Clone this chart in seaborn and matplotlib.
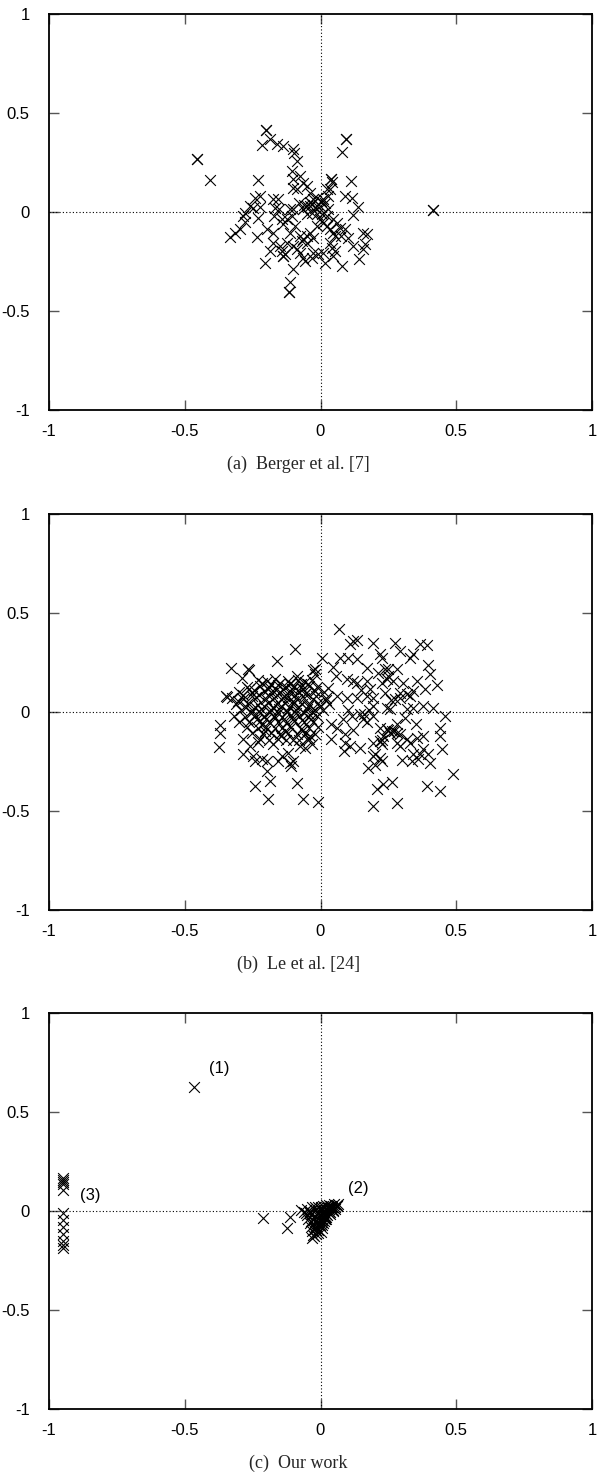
import matplotlib
matplotlib.use("Agg")
import matplotlib.pyplot as plt
import seaborn as sns
import pandas as pd

sns.set_theme(style="white")
plt.rcParams['font.family'] = ['Liberation Sans', 'DejaVu Sans']

# ---------------- Panel (a) Berger et al. [7] ----------------
a_x = [-0.454, -0.454, -0.20, -0.20, 0.094, 0.094, 0.415, 0.415, -0.115, -0.115, -0.112, -0.407, -0.231,
       0.080, 0.039, 0.039, 0.111, -0.217, -0.186, -0.162, -0.137, -0.100, -0.096, -0.088, -0.106, -0.100,
       -0.075, -0.063, -0.102, -0.088, -0.051, -0.039, -0.026, -0.014, 0.010, 0.023, 0.029, -0.051, -0.063,
       -0.039, -0.014, 0.029, 0.090, 0.115, 0.139, 0.121, -0.241, -0.223, -0.247, -0.223, -0.278, -0.284,
       -0.278, -0.232, -0.174, -0.155, -0.168, -0.152, -0.170, -0.143, -0.137, -0.125, -0.104, -0.100,
       -0.094, -0.112, -0.296, -0.315, -0.333, -0.235, -0.260, -0.075, -0.063, -0.051, -0.039, -0.051,
       -0.069, -0.026, -0.014, -0.002, 0.010, 0.023, 0.035, 0.047, 0.053, 0.071, 0.090, 0.077, 0.101,
       0.121, 0.158, 0.170, 0.164, 0.158, 0.142, 0.035, 0.041, 0.053, 0.047, 0.016, 0.078, 0.010, -0.008,
       -0.026, -0.033, -0.057, -0.063, -0.075, -0.100, -0.125, -0.149, -0.137, -0.137, -0.143, -0.131,
       -0.186, -0.174, -0.204, -0.100, -0.088, -0.112, -0.174, -0.198, 0.016, -0.002, 0.004, 0.047, 0.059,
       0.023, -0.014, -0.033, -0.051, 0.035, -0.040, -0.030, -0.020, -0.060, -0.080, 0.000, 0.043]
a_y = [0.269, 0.269, 0.414, 0.414, 0.367, 0.367, 0.010, 0.010, -0.404, -0.404, -0.354, 0.160, 0.160,
       0.305, 0.165, 0.165, 0.155, 0.340, 0.367, 0.342, 0.333, 0.317, 0.300, 0.258, 0.207, 0.165,
       0.182, 0.148, 0.123, 0.114, 0.131, 0.098, 0.064, 0.072, 0.064, 0.114, 0.081, 0.030, 0.013,
       0.030, 0.030, 0.013, 0.081, 0.072, 0.027, -0.017, 0.072, 0.081, 0.022, 0.027, -0.003, -0.020,
       -0.050, -0.032, 0.064, 0.064, 0.022, 0.013, -0.020, -0.037, -0.062, -0.037, -0.020, 0.013,
       -0.071, 0.013, -0.088, -0.104, -0.125, -0.125, 0.030, -0.121, -0.138, -0.121, -0.104, -0.155,
       -0.146, -0.130, -0.071, -0.037, -0.054, -0.071, -0.088, -0.104, -0.121, -0.079, -0.088, -0.121, -0.130,
       -0.172, -0.104, -0.113, -0.163, -0.189, -0.236, -0.155, -0.180, -0.197, -0.222, -0.256, -0.273, -0.205, -0.214,
       -0.205, -0.231, -0.247, -0.231, -0.205, -0.172, -0.155, -0.172, -0.222, -0.222, -0.197, -0.214,
       -0.197, -0.155, -0.256, -0.290, -0.189, -0.104, -0.104, -0.088, 0.047, 0.030, -0.012, -0.037, -0.054,
       -0.020, -0.012, -0.003, -0.012, 0.114, 0.050, 0.040, 0.020, 0.035, 0.045, 0.055, 0.150]

# ---------------- Panel (b) Le et al. [24] ----------------
b_right_x = [0.069, 0.109, 0.121, 0.134, 0.195, 0.220, 0.226, 0.275, 0.293, 0.330, 0.342, 0.366, 0.391,
             0.397, 0.403, 0.428, 0.385, 0.354, 0.238, 0.250, 0.281, 0.170, 0.134, 0.103, 0.072, 0.047,
             0.057, 0.096, 0.121, 0.134, 0.170, 0.182, 0.226, 0.244, 0.268, 0.305, 0.317, 0.330, 0.293,
             0.275, 0.244, 0.256, 0.317, 0.342, 0.379, 0.416, 0.459, 0.440, 0.440, 0.446, 0.084, 0.115,
             0.145, 0.158, 0.195, 0.096, 0.134, 0.170, 0.195, 0.219, 0.244, 0.262, 0.281, 0.293, 0.195,
             0.219, 0.226, 0.281, 0.293, 0.317, 0.330, 0.354, 0.379, 0.379, 0.342, 0.360, 0.336, 0.367,
             0.403, 0.397, 0.201, 0.219, 0.226, 0.195, 0.176, 0.090, 0.090, 0.087, 0.109, 0.145, 0.039,
             0.489, 0.391, 0.440, 0.207, 0.232, 0.262, 0.195, 0.281, 0.342, 0.293, 0.238, 0.195,
             0.027, 0.020, 0.060, 0.150, 0.250, 0.280, 0.310, 0.230, 0.180, 0.120, 0.040, 0.210, 0.260,
             0.300, 0.350, 0.160, 0.100, 0.060, 0.250, 0.255, 0.270, 0.225, 0.170, 0.200]
b_right_y = [0.418, 0.342, 0.358, 0.362, 0.346, 0.291, 0.274, 0.350, 0.308, 0.274, 0.291, 0.342, 0.337,
             0.236, 0.190, 0.135, 0.114, 0.157, 0.219, 0.215, 0.219, 0.224, 0.266, 0.274, 0.274, 0.229,
             0.182, 0.165, 0.157, 0.148, 0.157, 0.114, 0.148, 0.165, 0.157, 0.148, 0.089, 0.081, 0.072,
             0.064, 0.022, 0.013, 0.013, 0.022, 0.030, 0.022, -0.020, -0.079, -0.121, -0.189, -0.037, -0.020,
             -0.012, -0.037, -0.020, 0.072, 0.072, 0.081, 0.030, -0.079, -0.088, -0.096, -0.104, -0.113, -0.155,
             -0.146, -0.163, -0.155, -0.172, -0.138, -0.155, -0.130, -0.121, -0.189, -0.214, -0.239, -0.247, -0.214,
             -0.256, -0.214, -0.214, -0.231, -0.247, -0.222, -0.285, -0.113, -0.155, -0.197, -0.172, -0.180, -0.138,
             -0.315, -0.374, -0.399, -0.391, -0.365, -0.354, -0.475, -0.458, 0.106, 0.098, 0.098, 0.072,
             0.120, 0.060, -0.080, 0.110, 0.180, -0.060, -0.030, -0.120, 0.010, -0.090, -0.060, 0.195, 0.060,
             -0.240, -0.060, -0.010, 0.010, 0.080, -0.090, -0.105, -0.095, -0.140, -0.050, -0.270]

b_left_x = [-0.094, -0.159, -0.266, -0.262, -0.330, -0.290, 0.004, -0.020, -0.026, -0.349, -0.345,
            -0.370, -0.370, -0.373, -0.286, -0.241, -0.198, -0.186, -0.241, -0.192, -0.088, -0.063, -0.008,
            -0.110, -0.155, -0.100, -0.143, -0.112, -0.118, -0.284, -0.260, -0.247, -0.217, -0.198,
            -0.051, -0.033, -0.075, -0.057, -0.039,
            -0.232, -0.198, -0.168, -0.121, -0.083, -0.058, -0.031,
            -0.272, -0.224, -0.188, -0.157, -0.128, -0.097, -0.072, -0.042, -0.012,
            -0.301, -0.253, -0.207, -0.179, -0.148, -0.113, -0.081, -0.052, -0.019, 0.012,
            -0.327, -0.284, -0.238, -0.202, -0.171, -0.139, -0.118, -0.088, -0.061, -0.029, 0.021,
            -0.312, -0.268, -0.229, -0.192, -0.161, -0.131, -0.102, -0.068, -0.043, -0.008, 0.031,
            -0.293, -0.251, -0.218, -0.183, -0.152, -0.122, -0.091, -0.049, -0.021, 0.009,
            -0.318, -0.279, -0.241, -0.209, -0.172, -0.141, -0.109, -0.079, -0.038, -0.012,
            -0.302, -0.262, -0.221, -0.188, -0.158, -0.128, -0.098, -0.062, -0.028,
            -0.271, -0.232, -0.201, -0.169, -0.141, -0.108, -0.071, -0.041, -0.011,
            -0.252, -0.212, -0.181, -0.149, -0.119, -0.088, -0.058, -0.022,
            -0.221, -0.188, -0.158, -0.128, -0.101, -0.079, -0.041,
            -0.215, -0.182, -0.149, -0.112, -0.072, -0.045, -0.262, -0.244, -0.193, -0.164, -0.137,
            -0.105, -0.066, -0.025, -0.287, -0.254, -0.226, -0.193, -0.162, -0.134, -0.094, -0.056, -0.015,
            -0.276, -0.241, -0.209, -0.175, -0.146, -0.116, -0.083, -0.047, -0.002,
            -0.257, -0.221, -0.187, -0.155, -0.122, -0.092, -0.061, -0.031,
            -0.233, -0.199, -0.167, -0.135, -0.101, -0.068, -0.035, -0.205, -0.132, -0.064,
            -0.305, -0.215, -0.145, -0.085, -0.020, -0.230, -0.175, -0.100]
b_left_y = [0.316, 0.258, 0.215, 0.212, 0.224, 0.173, 0.274, 0.219, 0.212, 0.081, 0.075,
            -0.067, -0.104, -0.175, -0.214, -0.247, -0.298, -0.348, -0.374, -0.441, -0.357, -0.441, -0.455,
            -0.273, -0.247, -0.247, -0.222, -0.256, -0.205, -0.138, -0.172, -0.222, -0.239, -0.247,
            -0.138, -0.163, -0.172, -0.180, -0.121,
            0.162, 0.158, 0.166, 0.155, 0.160, 0.150, 0.163,
            0.128, 0.131, 0.125, 0.134, 0.127, 0.132, 0.124, 0.130, 0.126,
            0.101, 0.096, 0.104, 0.098, 0.103, 0.095, 0.102, 0.097, 0.104, 0.099,
            0.072, 0.068, 0.075, 0.066, 0.073, 0.069, 0.074, 0.067, 0.071, 0.065, 0.073,
            0.041, 0.044, 0.037, 0.043, 0.038, 0.045, 0.039, 0.042, 0.036, 0.044, 0.040,
            0.012, 0.008, 0.014, 0.009, 0.013, 0.007, 0.011, 0.015, 0.008, 0.012,
            -0.018, -0.023, -0.016, -0.022, -0.019, -0.024, -0.017, -0.021, -0.015, -0.022,
            -0.049, -0.053, -0.047, -0.052, -0.048, -0.054, -0.046, -0.051, -0.049,
            -0.078, -0.082, -0.076, -0.083, -0.079, -0.077, -0.084, -0.080, -0.078,
            -0.108, -0.112, -0.106, -0.111, -0.107, -0.113, -0.109, -0.110,
            -0.138, -0.142, -0.136, -0.141, -0.139, -0.143, -0.137,
            0.145, 0.142, 0.148, 0.140, 0.143, 0.139, 0.115, 0.113, 0.117, 0.112, 0.116,
            0.114, 0.118, 0.111, 0.086, 0.083, 0.088, 0.084, 0.087, 0.082, 0.085, 0.089, 0.083,
            0.027, 0.024, 0.029, 0.025, 0.028, 0.023, 0.026, 0.030, 0.024,
            -0.003, -0.006, -0.001, -0.005, -0.002, -0.007, -0.004, -0.001,
            -0.034, -0.037, -0.032, -0.036, -0.033, -0.038, -0.035, -0.094, -0.096, -0.092,
            0.055, -0.065, -0.122, 0.180, 0.190, -0.150, -0.160, 0.058]

b_x = b_right_x + b_left_x
b_y = b_right_y + b_left_y

# ---------------- Panel (c) Our work ----------------
c_x = [-0.465,
       -0.947, -0.947, -0.947, -0.947, -0.947, -0.947, -0.947, -0.947, -0.947, -0.947, -0.947, -0.947,
       -0.213, -0.112, -0.125,
       -0.070, -0.050, -0.030, -0.010, 0.010, 0.030, 0.050, 0.065,
       -0.060, -0.040, -0.020, 0.000, 0.020, 0.040, 0.055,
       -0.050, -0.030, -0.010, 0.010, 0.030, 0.045,
       -0.045, -0.025, -0.005, 0.015, 0.035,
       -0.040, -0.020, 0.000, 0.020,
       -0.035, -0.015, 0.005,
       -0.030, -0.010, -0.028, -0.015, -0.030,
       -0.020, 0.000, 0.020, 0.040, 0.060, -0.010, 0.010, 0.030, 0.050,
       0.000, 0.020, 0.035, -0.005, 0.012, 0.025, -0.012, 0.005, 0.015,
       -0.040, 0.062, 0.045, 0.028, -0.055, -0.035, -0.020, -0.008,
       0.052, 0.038, 0.022, 0.008, -0.004, 0.042, 0.026, 0.012, 0.030, 0.018, 0.006, 0.022,
       0.010, -0.002, 0.014, 0.004, -0.008, 0.000, -0.018, -0.024]
c_y = [0.625,
       0.165, 0.155, 0.148, 0.135, 0.105, -0.010, -0.045, -0.080, -0.115, -0.150, -0.170, -0.185,
       -0.037, -0.029, -0.084,
       0.005, 0.012, 0.018, 0.022, 0.026, 0.030, 0.033, 0.035,
       -0.005, 0.000, 0.005, 0.010, 0.012, 0.018, 0.020,
       -0.020, -0.015, -0.010, -0.005, 0.000, 0.005,
       -0.040, -0.035, -0.030, -0.025, -0.015,
       -0.060, -0.055, -0.050, -0.040,
       -0.080, -0.075, -0.070,
       -0.100, -0.095, -0.120, -0.115, -0.135,
       0.020, 0.022, 0.028, 0.025, 0.030, -0.005, 0.000, 0.010, 0.015,
       -0.020, -0.015, -0.005, -0.045, -0.035, -0.020, -0.060, -0.055, -0.040,
       -0.008, 0.025, -0.002, 0.020, -0.012, -0.050, -0.090, -0.110,
       0.012, 0.008, 0.004, -0.012, -0.022, 0.022, 0.014, -0.002, -0.010, -0.028, -0.045, -0.032,
       -0.062, -0.070, -0.050, -0.085, -0.065, -0.105, -0.085, -0.125]

c_labels = ["(1)", "(2)", "(3)"]
c_label_x = [-0.41, 0.10, -0.886]
c_label_y = [0.72, 0.116, 0.076]

captions = ["(a)  Berger et al. [7]", "(b)  Le et al. [24]", "(c)  Our work"]
ticks = [-1, -0.5, 0, 0.5, 1]
tick_labels = ["-1", "-0.5", "0", "0.5", "1"]

W, H = 597, 1483
fig = plt.figure(figsize=(W / 100, H / 100), dpi=100)

left = 49 / W
width = 543 / W
height = 396 / H
bottoms = [1 - 410 / H, 1 - 910 / H, 1 - 1409 / H]
cap_y = [1 - 464 / H, 1 - 964 / H, 1 - 1463 / H]

datasets = [(a_x, a_y), (b_x, b_y), (c_x, c_y)]

for i, ((xs, ys), bot) in enumerate(zip(datasets, bottoms)):
    ax = fig.add_axes([left, bot, width, height])
    ax.axhline(0, color="black", lw=0.8, ls=(0, (1, 2)), zorder=1)
    ax.axvline(0, color="black", lw=0.8, ls=(0, (1, 2)), zorder=1)
    df = pd.DataFrame({"x": xs, "y": ys})
    sns.scatterplot(data=df, x="x", y="y", marker="x", color="black",
                    s=60, linewidth=0.8, ax=ax, zorder=3, legend=False)
    ax.set_xlim(-1, 1)
    ax.set_ylim(-1, 1)
    ax.set_xticks(ticks)
    ax.set_yticks(ticks)
    ax.set_xticklabels(tick_labels)
    ax.set_yticklabels(tick_labels)
    ax.set_xlabel("")
    ax.set_ylabel("")
    ax.tick_params(direction="in", length=7, width=1.0, color="#555555",
                   top=True, right=True, bottom=True, left=True,
                   labelsize=12, labelcolor="black")
    ax.tick_params(axis="x", pad=10)
    ax.tick_params(axis="y", pad=14)
    for sp in ax.spines.values():
        sp.set_visible(True)
        sp.set_color("black")
        sp.set_linewidth(1.3)
    ax.grid(False)
    if i == 2:
        for lab, lx, ly in zip(c_labels, c_label_x, c_label_y):
            ax.text(lx, ly, lab, fontsize=12, ha="left", va="center", color="black")
    fig.text(0.5, cap_y[i], captions[i], ha="center", va="center",
             fontsize=13, family=["Liberation Serif", "DejaVu Serif"])

fig.savefig("out.png", dpi=100)
